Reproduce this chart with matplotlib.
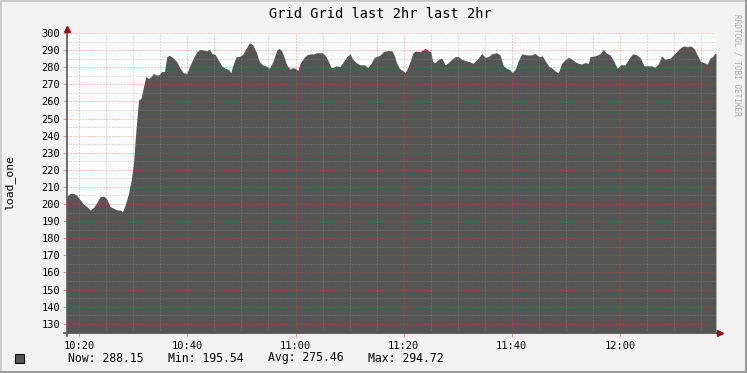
import matplotlib.pyplot as plt
import numpy as np

# minutes after 10:00
minutes = [
    17.72, 18.34, 18.95, 19.57, 20.18, 20.80, 21.42, 22.03, 22.65, 23.27,
    23.88, 24.50, 25.11, 25.73, 26.35, 26.96, 27.58, 28.01, 28.50, 29.12,
    29.61, 30.04, 30.35, 30.66, 30.97, 31.46, 31.89, 32.32, 32.82, 33.31,
    33.74, 34.17, 34.66, 35.28, 35.77, 36.21, 36.64, 37.13,
    37.44, 38.05, 38.67, 39.28, 39.90, 40.52, 41.13, 41.75, 42.36, 42.98,
    43.60, 44.09, 44.52, 45.14, 45.75, 46.37, 46.99, 47.60, 48.03, 48.53,
    49.02, 49.63, 50.25, 50.87, 51.48, 52.10, 52.72, 53.33, 53.95, 54.56,
    55.18, 55.80, 56.54, 56.97, 57.46, 57.96, 58.39, 59.00, 59.43, 59.93,
    60.42, 60.85, 61.47, 62.08, 62.70, 63.31, 63.93, 64.86, 65.47, 65.96,
    66.58, 67.01, 67.44, 68.24, 68.86, 69.48, 70.09, 70.59, 71.20, 71.94,
    72.74, 73.36, 73.97, 74.59, 75.33,
    75.64, 76.26, 76.87, 77.80, 78.23, 78.72, 79.21, 79.83, 80.26, 80.69,
    81.18, 81.68, 82.11, 83.03, 83.96, 84.57, 85.00, 85.37, 85.81, 86.42,
    87.04, 87.65, 88.27, 88.89, 89.50, 90.12, 90.73, 91.35, 92.15, 92.77,
    93.38, 94.00, 94.43,
    95.05, 95.67, 96.28, 97.21, 97.82, 98.44, 99.05, 99.67, 100.10, 100.72,
    101.21, 101.83, 102.75, 103.68, 104.29, 105.03, 105.65, 106.26, 106.88, 107.49,
    108.11, 108.60, 109.22, 109.84, 110.45, 111.07, 111.68, 112.30, 112.92, 113.53,
    114.15,
    114.45, 115.37, 116.30, 116.91, 117.41, 118.15, 118.89, 119.50, 120.12, 120.92,
    121.72, 122.34, 123.08, 123.81, 124.43, 125.23, 125.85, 126.46, 127.08, 127.70,
    128.31, 129.24, 129.85, 130.47, 131.21, 131.82, 132.44, 133.06, 133.67, 134.29,
    134.90, 135.52, 136.14, 136.63, 137.12, 137.55, 137.74,
]
load_one = [
    204.3, 206.3, 206.3, 205.0, 202.5, 200.0, 198.5, 196.5, 198.0, 201.0,
    204.3, 204.7, 203.0, 198.5, 197.6, 196.5, 196.5, 195.5, 199.5, 206.0,
    214.0, 223.8, 237.4, 249.0, 260.8, 262.0, 268.6, 274.5, 273.5, 274.5,
    276.4, 275.5, 275.5, 277.5, 277.5, 286.2, 287.0, 286.0,
    285.3, 283.2, 279.4, 276.8, 276.4, 281.3, 285.4, 289.1, 290.4, 290.0,
    289.6, 290.5, 288.0, 287.5, 284.2, 280.7, 279.4, 278.8, 276.8, 282.2,
    286.0, 286.4, 287.5, 291.0, 294.3, 293.0, 289.0, 283.2, 281.3, 280.7,
    279.4, 283.2, 290.0, 291.0, 289.6, 285.3, 281.3, 278.8, 279.8, 279.4,
    278.0, 282.2, 285.3, 287.2, 287.8, 287.8, 288.5, 288.5, 287.2, 284.3,
    279.8, 280.0, 280.8, 280.4, 283.3, 286.2, 287.8, 284.7, 282.8, 281.4,
    281.4, 279.8, 282.3, 285.8, 286.6,
    287.2, 289.1, 289.7, 289.7, 287.2, 282.3, 279.4, 278.0, 276.8, 279.4,
    283.3, 288.1, 289.5, 289.1, 291.0, 289.7, 289.1, 283.3, 282.7, 284.7,
    285.3, 281.4, 282.7, 284.7, 286.2, 286.2, 284.7, 283.9, 283.3, 282.3,
    283.9, 286.2, 288.1,
    285.8, 286.2, 287.8, 288.5, 287.2, 280.8, 279.4, 278.4, 276.8, 279.4,
    283.9, 287.8, 287.2, 287.2, 288.1, 286.2, 286.6, 283.3, 280.4, 279.4,
    277.5, 276.8, 282.3, 284.3, 285.8, 284.7, 283.3, 282.3, 281.9, 282.7,
    282.3,
    286.2, 286.6, 287.8, 290.4, 288.5, 287.2, 283.3, 279.4, 281.4, 281.4,
    285.3, 287.8, 287.2, 285.3, 280.8, 280.8, 280.8, 280.0, 281.9, 286.6,
    284.7, 285.3, 287.2, 289.1, 291.6, 292.4, 292.0, 292.4, 291.0, 287.2,
    283.3, 282.7, 281.9, 285.3, 286.2, 288.1, 288.15,
]
tick_minutes = [20, 40, 60, 80, 100, 120]
tick_labels = ['10:20', '10:40', '11:00', '11:20', '11:40', '12:00']
ytick_values = list(range(130, 301, 10))

title = 'Grid Grid last 2hr last 2hr'
legend_items = ['Now: 288.15', 'Min: 195.54', 'Avg: 275.46', 'Max: 294.72']

W, H = 747, 373
plt.rcParams['font.family'] = 'DejaVu Sans Mono'
plt.rcParams['lines.scale_dashes'] = False
fig = plt.figure(figsize=(W / 100, H / 100), dpi=100, facecolor='#f2f2f2')

# plot area in pixels
x0, x1, ytop, ybot = 67, 716, 32.5, 333
ax = fig.add_axes([x0 / W, (H - ybot) / H, (x1 - x0) / W, (ybot - ytop) / H])
ax.set_facecolor('white')
ax.set_xlim(17.75, 137.75)
ax.set_ylim(124.6, 300.3)

ax.fill_between(minutes, load_one, 124.6, color='#555555', linewidth=0, zorder=1)

# dotted grid: minor grey every 5 min / 5 units, major red every 20 min / 10 units
minor_col = (0.55, 0.55, 0.55, 0.6)
major_col = (0.95, 0.2, 0.2, 0.55)
dots = (0, (0.72, 1.44))
for m in np.arange(20, 138, 5):
    col = major_col if m % 20 == 0 else minor_col
    ax.axvline(m, color=col, lw=0.72, ls=dots, zorder=2)
for v in np.arange(125, 301, 5):
    col = major_col if v % 10 == 0 else minor_col
    ax.axhline(v, color=col, lw=0.72, ls=dots, zorder=2)

for s in ax.spines.values():
    s.set_visible(False)
ax.set_xticks(tick_minutes)
ax.set_xticklabels(tick_labels)
ax.set_yticks(ytick_values)
ax.tick_params(axis='both', length=3, width=0.6, colors='#e08888', labelcolor='black',
               labelsize=7.5, pad=2)
ax.tick_params(axis='x', pad=3)

# axis lines with arrows
ax.plot([0, 0], [-0.01, 1.01], transform=ax.transAxes, color='#555555', lw=1.2,
        clip_on=False, zorder=3)
ax.plot([-0.005, 1.005], [0, 0], transform=ax.transAxes, color='#555555', lw=1.2,
        clip_on=False, zorder=3)
ax.plot([0], [1.012], marker='^', ms=4, color='#991111', transform=ax.transAxes,
        clip_on=False, zorder=4)
ax.plot([1.006], [0], marker='>', ms=4, color='#991111', transform=ax.transAxes,
        clip_on=False, zorder=4)

fig.text(380 / W, 1 - 14 / H, title, ha='center', va='center', fontsize=9.8)
fig.text(10 / W, 1 - 183 / H, 'load_one', rotation=90, ha='center', va='center', fontsize=8.2)
fig.text(737 / W, 1 - 65 / H, 'RRDTOOL / TOBI OETIKER', rotation=270, ha='center',
         va='center', fontsize=5.6, color='#aaaaaa')

# legend
fig.patches.append(plt.Rectangle((15 / W, 1 - 363 / H), 9 / W, 9 / H, transform=fig.transFigure,
                                 facecolor='#555555', edgecolor='black', lw=0.7))
for i, item in enumerate(legend_items):
    fig.text((68 + 100 * i) / W, 1 - 358 / H, item, ha='left', va='center', fontsize=8.3)

# border shading
fig.add_artist(plt.Line2D([0.5 / W, 0.5 / W, 1 - 1 / W], [0, 1 - 1 / H, 1 - 1 / H],
                          transform=fig.transFigure, color='#cccccc', lw=1.5))
fig.add_artist(plt.Line2D([1 / W, 1 - 1 / W, 1 - 1 / W], [1 / H, 1 / H, 1 - 1 / H],
                          transform=fig.transFigure, color='#999999', lw=2.2))

fig.savefig('out.png', dpi=100, facecolor=fig.get_facecolor())
